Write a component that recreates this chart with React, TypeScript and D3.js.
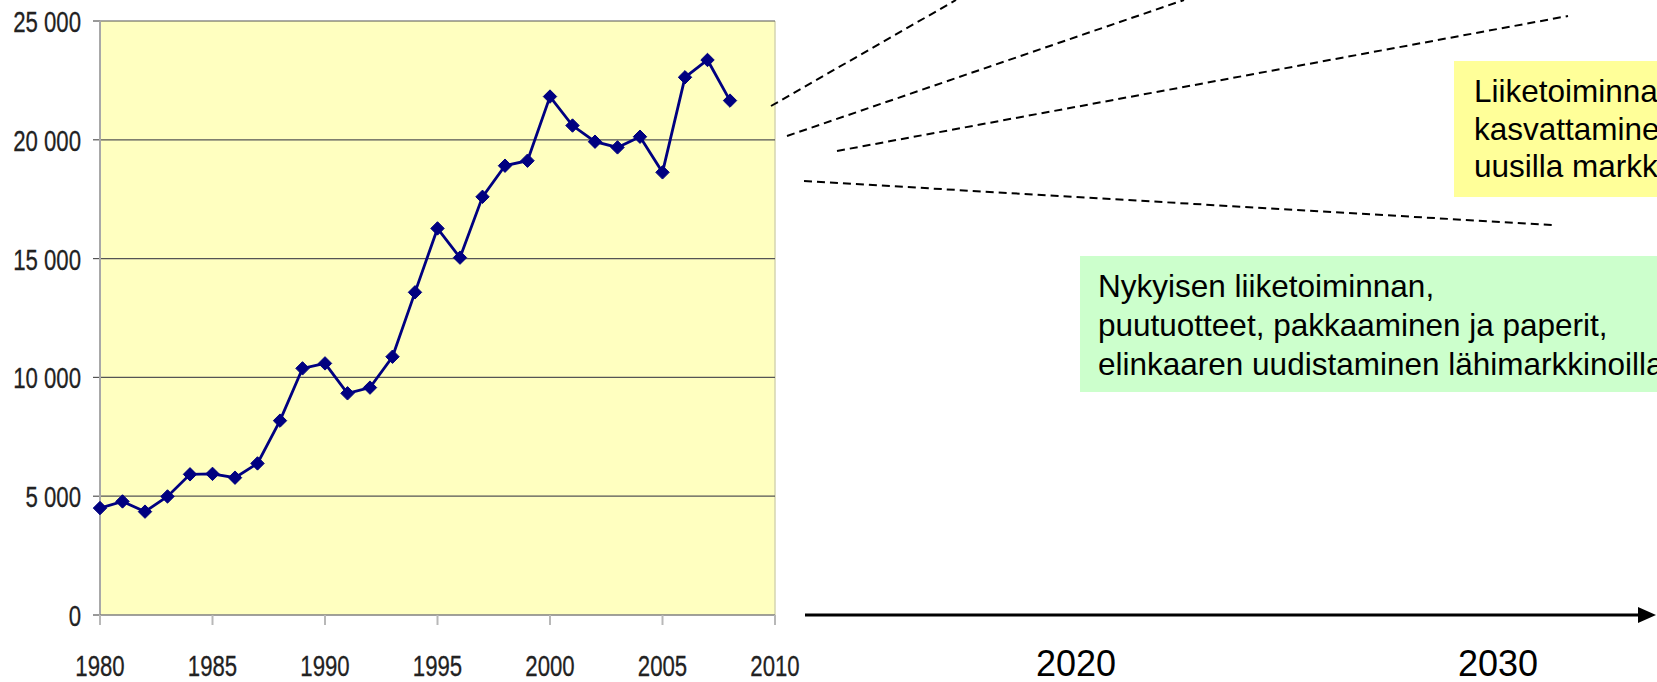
import React, { useMemo } from "react";
import * as d3 from "d3";

const WIDTH = 1657;
const HEIGHT = 682;
const MARGIN = { top: 21, right: 882, bottom: 67, left: 100 };
const FONT = "'Liberation Sans', Arial, sans-serif";

// net sales per year
const years = [
  1980, 1981, 1982, 1983, 1984, 1985, 1986, 1987, 1988, 1989, 1990, 1991, 1992, 1993, 1994,
  1995, 1996, 1997, 1998, 1999, 2000, 2001, 2002, 2003, 2004, 2005, 2006, 2007, 2008,
];
const values = [
  4500, 4780, 4350, 4990, 5920, 5940, 5780, 6380, 8180, 10380, 10590, 9330, 9570, 10870, 13580,
  16270, 15040, 17600, 18910, 19120, 21820, 20600, 19920, 19680, 20130, 18630, 22630, 23360, 21650,
];
const yTicks = [0, 5000, 10000, 15000, 20000, 25000];
const xTicks = [1980, 1985, 1990, 1995, 2000, 2005, 2010];
const timelineYears = [2020, 2030];

const growthLines = ["Liiketoiminnan", "kasvattaminen", "uusilla markkinoilla"];
const currentLines = [
  "Nykyisen liiketoiminnan,",
  "puutuotteet, pakkaaminen ja paperit,",
  "elinkaaren uudistaminen lähimarkkinoilla",
];

// fan of dashed scenario lines to the right of the chart
const fanLines = [
  { x1: 771, y1: 106, x2: 956, y2: 0 },
  { x1: 787, y1: 136, x2: 1184, y2: 0 },
  { x1: 837, y1: 151, x2: 1568, y2: 16 },
  { x1: 804, y1: 181, x2: 1552, y2: 225 },
];

const fiLocale = d3.formatLocale({
  decimal: ",",
  thousands: " ",
  grouping: [3],
  currency: ["", " €"],
});
const fmt = fiLocale.format(",");

export default function App() {
  const boundsRight = WIDTH - MARGIN.right;
  const boundsBottom = HEIGHT - MARGIN.bottom;

  const xScale = useMemo(
    () => d3.scaleLinear().domain([1980, 2010]).range([MARGIN.left, boundsRight]),
    [boundsRight]
  );
  const yScale = useMemo(
    () => d3.scaleLinear().domain([0, 25000]).range([boundsBottom, MARGIN.top]),
    [boundsBottom]
  );
  // the future timeline on the right
  const tScale = d3.scaleLinear().domain([2020, 2030]).range([1076, 1498]);

  const data = years.map((y, i) => ({ year: y, value: values[i] }));

  const linePath = d3
    .line<{ year: number; value: number }>()
    .x((d) => xScale(d.year))
    .y((d) => yScale(d.value))(data);

  const symType = (d3 as any).symbolDiamond2 ?? d3.symbolDiamond;
  const diamond = d3.symbol().type(symType).size(115)();

  return (
    <svg
      width={WIDTH}
      height={HEIGHT}
      style={{ position: "absolute", left: 0, top: 0, display: "block", background: "#fff" }}
      fontFamily={FONT}
    >
      {/* plot area */}
      <rect
        x={MARGIN.left}
        y={MARGIN.top}
        width={boundsRight - MARGIN.left}
        height={boundsBottom - MARGIN.top}
        fill="#FFFFC0"
      />
      <line
        x1={boundsRight}
        x2={boundsRight}
        y1={MARGIN.top}
        y2={boundsBottom}
        stroke="#D4D4B0"
        strokeWidth={1.5}
      />

      {/* gridlines and y axis */}
      {yTicks.map((t) => (
        <g key={t}>
          {t > 0 && (
            <line
              x1={MARGIN.left}
              x2={boundsRight}
              y1={yScale(t)}
              y2={yScale(t)}
              stroke="#555"
              strokeWidth={1.2}
            />
          )}
          <line
            x1={MARGIN.left - 7}
            x2={MARGIN.left}
            y1={yScale(t)}
            y2={yScale(t)}
            stroke="#555"
            strokeWidth={1.2}
          />
          <text
            transform={`translate(${MARGIN.left - 19},${yScale(t) + 11}) scale(0.74,1)`}
            textAnchor="end"
            fontSize={30}
            fill="#222"
            stroke="#222"
            strokeWidth={0.3}
          >
            {fmt(t)}
          </text>
        </g>
      ))}
      <line
        x1={MARGIN.left}
        x2={MARGIN.left}
        y1={MARGIN.top}
        y2={boundsBottom + 10}
        stroke="#A8A8A8"
        strokeWidth={2}
      />
      <line
        x1={MARGIN.left}
        x2={boundsRight}
        y1={boundsBottom}
        y2={boundsBottom}
        stroke="#808080"
        strokeWidth={1.5}
      />

      {/* x axis */}
      {xTicks.map((t) => (
        <g key={t}>
          <line
            x1={xScale(t)}
            x2={xScale(t)}
            y1={boundsBottom}
            y2={boundsBottom + 10}
            stroke="#B8B8B8"
            strokeWidth={2}
          />
          <text
            transform={`translate(${xScale(t)},${boundsBottom + 61}) scale(0.74,1)`}
            textAnchor="middle"
            fontSize={30}
            fill="#222"
            stroke="#222"
            strokeWidth={0.3}
          >
            {t}
          </text>
        </g>
      ))}

      {/* series */}
      <path d={linePath ?? ""} fill="none" stroke="#000080" strokeWidth={2.8} />
      {data.map((d) => (
        <path
          key={d.year}
          d={diamond ?? ""}
          transform={`translate(${xScale(d.year)},${yScale(d.value)})`}
          fill="#000080"
          stroke="#000080"
          strokeWidth={1}
        />
      ))}

      {/* dashed scenario fan */}
      {fanLines.map((l, i) => (
        <line
          key={i}
          x1={l.x1}
          y1={l.y1}
          x2={l.x2}
          y2={l.y2}
          stroke="#000"
          strokeWidth={2}
          strokeDasharray="8 5"
        />
      ))}

      {/* growth box */}
      <rect x={1454} y={61} width={WIDTH - 1454} height={136} fill="#FFFF99" />
      <text x={1474} y={102} fontSize={31.5} fill="#000">
        {growthLines.map((s, i) => (
          <tspan key={i} x={1474} dy={i === 0 ? 0 : 37.5}>
            {s}
          </tspan>
        ))}
      </text>

      {/* current business box */}
      <rect x={1080} y={256} width={WIDTH - 1080} height={136} fill="#CCFFCC" />
      <text x={1098} y={297} fontSize={31.5} fill="#000">
        {currentLines.map((s, i) => (
          <tspan key={i} x={1098} dy={i === 0 ? 0 : 39}>
            {s}
          </tspan>
        ))}
      </text>

      {/* timeline arrow */}
      <line x1={805} x2={1642} y1={615} y2={615} stroke="#000" strokeWidth={3} />
      <path d="M1638,607 L1656,615 L1638,623 Z" fill="#000" />
      {timelineYears.map((t) => (
        <text key={t} x={tScale(t)} y={676} textAnchor="middle" fontSize={36} fill="#000">
          {t}
        </text>
      ))}
    </svg>
  );
}
